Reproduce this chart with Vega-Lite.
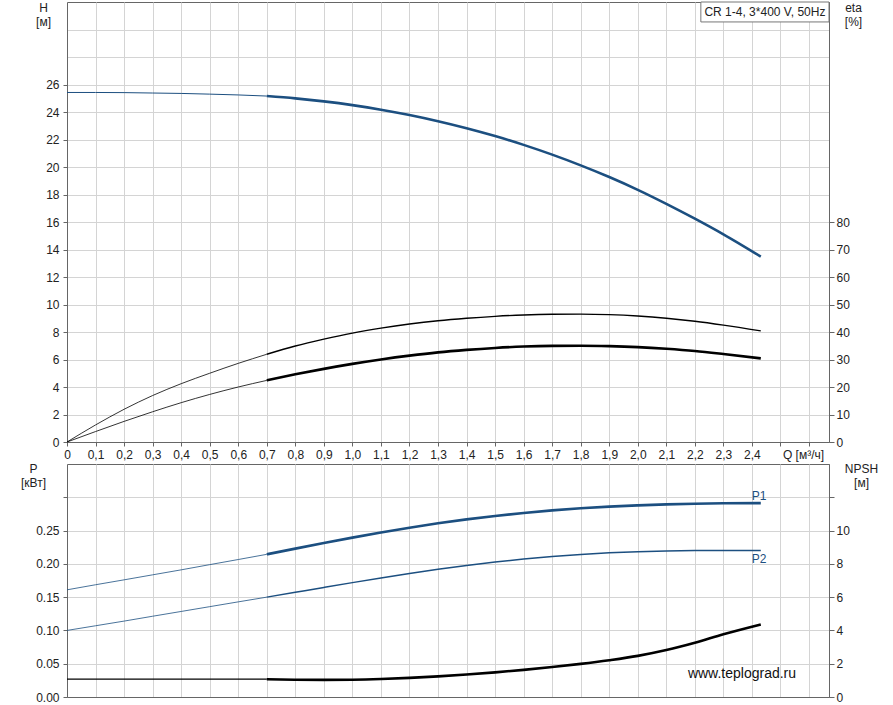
{
  "$schema": "https://vega.github.io/schema/vega-lite/v6.json",
  "autosize": {"type": "pad"},
  "padding": {"left": 19, "top": 0, "right": 5, "bottom": 3},
  "background": "white",
  "config": {
    "font": "Liberation Sans",
    "view": {"stroke": "#666", "strokeWidth": 1},
    "axis": {
      "labelFont": "Liberation Sans", "labelFontSize": 12, "labelColor": "#222", "labelOverlap": false,
      "titleFont": "Liberation Sans", "titleFontSize": 12, "titleFontWeight": "normal", "titleColor": "#222",
      "domainColor": "#666", "tickColor": "#666", "gridColor": "#d4d4d4", "gridWidth": 1
    }
  },
  "datasets": {
    "curves": [
      {"Q": 0, "value": 25.42, "curve": "H", "part": "ext"},
      {"Q": 0.1, "value": 25.42, "curve": "H", "part": "ext"},
      {"Q": 0.2, "value": 25.41, "curve": "H", "part": "ext"},
      {"Q": 0.3, "value": 25.38, "curve": "H", "part": "ext"},
      {"Q": 0.4, "value": 25.35, "curve": "H", "part": "ext"},
      {"Q": 0.5, "value": 25.30, "curve": "H", "part": "ext"},
      {"Q": 0.6, "value": 25.24, "curve": "H", "part": "ext"},
      {"Q": 0.7, "value": 25.16, "curve": "H", "part": "ext"},
      {"Q": 0.7, "value": 25.16, "curve": "H", "part": "op"},
      {"Q": 0.8, "value": 24.99, "curve": "H", "part": "op"},
      {"Q": 0.9, "value": 24.77, "curve": "H", "part": "op"},
      {"Q": 1.0, "value": 24.50, "curve": "H", "part": "op"},
      {"Q": 1.1, "value": 24.17, "curve": "H", "part": "op"},
      {"Q": 1.2, "value": 23.78, "curve": "H", "part": "op"},
      {"Q": 1.3, "value": 23.33, "curve": "H", "part": "op"},
      {"Q": 1.4, "value": 22.82, "curve": "H", "part": "op"},
      {"Q": 1.5, "value": 22.25, "curve": "H", "part": "op"},
      {"Q": 1.6, "value": 21.61, "curve": "H", "part": "op"},
      {"Q": 1.7, "value": 20.90, "curve": "H", "part": "op"},
      {"Q": 1.8, "value": 20.12, "curve": "H", "part": "op"},
      {"Q": 1.9, "value": 19.27, "curve": "H", "part": "op"},
      {"Q": 2.0, "value": 18.34, "curve": "H", "part": "op"},
      {"Q": 2.1, "value": 17.32, "curve": "H", "part": "op"},
      {"Q": 2.2, "value": 16.24, "curve": "H", "part": "op"},
      {"Q": 2.3, "value": 15.10, "curve": "H", "part": "op"},
      {"Q": 2.431, "value": 13.48, "curve": "H", "part": "op"},

      {"Q": 0, "value": 0, "curve": "eta1", "part": "ext"},
      {"Q": 0.1, "value": 6.2, "curve": "eta1", "part": "ext"},
      {"Q": 0.2, "value": 11.9, "curve": "eta1", "part": "ext"},
      {"Q": 0.3, "value": 16.9, "curve": "eta1", "part": "ext"},
      {"Q": 0.4, "value": 21.2, "curve": "eta1", "part": "ext"},
      {"Q": 0.5, "value": 25.0, "curve": "eta1", "part": "ext"},
      {"Q": 0.6, "value": 28.6, "curve": "eta1", "part": "ext"},
      {"Q": 0.7, "value": 31.9, "curve": "eta1", "part": "ext"},
      {"Q": 0.7, "value": 31.9, "curve": "eta1", "part": "op"},
      {"Q": 0.8, "value": 34.9, "curve": "eta1", "part": "op"},
      {"Q": 0.9, "value": 37.4, "curve": "eta1", "part": "op"},
      {"Q": 1.0, "value": 39.6, "curve": "eta1", "part": "op"},
      {"Q": 1.1, "value": 41.4, "curve": "eta1", "part": "op"},
      {"Q": 1.2, "value": 42.9, "curve": "eta1", "part": "op"},
      {"Q": 1.3, "value": 44.1, "curve": "eta1", "part": "op"},
      {"Q": 1.4, "value": 45.0, "curve": "eta1", "part": "op"},
      {"Q": 1.5, "value": 45.7, "curve": "eta1", "part": "op"},
      {"Q": 1.6, "value": 46.2, "curve": "eta1", "part": "op"},
      {"Q": 1.7, "value": 46.45, "curve": "eta1", "part": "op"},
      {"Q": 1.8, "value": 46.5, "curve": "eta1", "part": "op"},
      {"Q": 1.9, "value": 46.3, "curve": "eta1", "part": "op"},
      {"Q": 2.0, "value": 45.8, "curve": "eta1", "part": "op"},
      {"Q": 2.1, "value": 45.0, "curve": "eta1", "part": "op"},
      {"Q": 2.2, "value": 43.9, "curve": "eta1", "part": "op"},
      {"Q": 2.3, "value": 42.5, "curve": "eta1", "part": "op"},
      {"Q": 2.431, "value": 40.4, "curve": "eta1", "part": "op"},

      {"Q": 0, "value": 0, "curve": "eta2", "part": "ext"},
      {"Q": 0.1, "value": 3.8, "curve": "eta2", "part": "ext"},
      {"Q": 0.2, "value": 7.5, "curve": "eta2", "part": "ext"},
      {"Q": 0.3, "value": 11.0, "curve": "eta2", "part": "ext"},
      {"Q": 0.4, "value": 14.3, "curve": "eta2", "part": "ext"},
      {"Q": 0.5, "value": 17.3, "curve": "eta2", "part": "ext"},
      {"Q": 0.6, "value": 20.0, "curve": "eta2", "part": "ext"},
      {"Q": 0.7, "value": 22.4, "curve": "eta2", "part": "ext"},
      {"Q": 0.7, "value": 22.4, "curve": "eta2", "part": "op"},
      {"Q": 0.8, "value": 24.6, "curve": "eta2", "part": "op"},
      {"Q": 0.9, "value": 26.6, "curve": "eta2", "part": "op"},
      {"Q": 1.0, "value": 28.4, "curve": "eta2", "part": "op"},
      {"Q": 1.1, "value": 30.0, "curve": "eta2", "part": "op"},
      {"Q": 1.2, "value": 31.4, "curve": "eta2", "part": "op"},
      {"Q": 1.3, "value": 32.6, "curve": "eta2", "part": "op"},
      {"Q": 1.4, "value": 33.5, "curve": "eta2", "part": "op"},
      {"Q": 1.5, "value": 34.2, "curve": "eta2", "part": "op"},
      {"Q": 1.6, "value": 34.7, "curve": "eta2", "part": "op"},
      {"Q": 1.7, "value": 34.95, "curve": "eta2", "part": "op"},
      {"Q": 1.8, "value": 35.0, "curve": "eta2", "part": "op"},
      {"Q": 1.9, "value": 34.85, "curve": "eta2", "part": "op"},
      {"Q": 2.0, "value": 34.5, "curve": "eta2", "part": "op"},
      {"Q": 2.1, "value": 33.9, "curve": "eta2", "part": "op"},
      {"Q": 2.2, "value": 33.1, "curve": "eta2", "part": "op"},
      {"Q": 2.3, "value": 32.0, "curve": "eta2", "part": "op"},
      {"Q": 2.431, "value": 30.4, "curve": "eta2", "part": "op"},

      {"Q": 0, "value": 0.161, "curve": "P1", "part": "ext"},
      {"Q": 0.1, "value": 0.1686, "curve": "P1", "part": "ext"},
      {"Q": 0.2, "value": 0.176, "curve": "P1", "part": "ext"},
      {"Q": 0.3, "value": 0.1835, "curve": "P1", "part": "ext"},
      {"Q": 0.4, "value": 0.191, "curve": "P1", "part": "ext"},
      {"Q": 0.5, "value": 0.1988, "curve": "P1", "part": "ext"},
      {"Q": 0.6, "value": 0.2065, "curve": "P1", "part": "ext"},
      {"Q": 0.7, "value": 0.2143, "curve": "P1", "part": "ext"},
      {"Q": 0.7, "value": 0.2143, "curve": "P1", "part": "op"},
      {"Q": 0.8, "value": 0.2229, "curve": "P1", "part": "op"},
      {"Q": 0.9, "value": 0.2313, "curve": "P1", "part": "op"},
      {"Q": 1.0, "value": 0.2394, "curve": "P1", "part": "op"},
      {"Q": 1.1, "value": 0.2471, "curve": "P1", "part": "op"},
      {"Q": 1.2, "value": 0.2543, "curve": "P1", "part": "op"},
      {"Q": 1.3, "value": 0.2609, "curve": "P1", "part": "op"},
      {"Q": 1.4, "value": 0.2668, "curve": "P1", "part": "op"},
      {"Q": 1.5, "value": 0.2720, "curve": "P1", "part": "op"},
      {"Q": 1.6, "value": 0.2765, "curve": "P1", "part": "op"},
      {"Q": 1.7, "value": 0.2803, "curve": "P1", "part": "op"},
      {"Q": 1.8, "value": 0.2835, "curve": "P1", "part": "op"},
      {"Q": 1.9, "value": 0.2860, "curve": "P1", "part": "op"},
      {"Q": 2.0, "value": 0.2879, "curve": "P1", "part": "op"},
      {"Q": 2.1, "value": 0.2894, "curve": "P1", "part": "op"},
      {"Q": 2.2, "value": 0.2904, "curve": "P1", "part": "op"},
      {"Q": 2.3, "value": 0.2910, "curve": "P1", "part": "op"},
      {"Q": 2.431, "value": 0.2912, "curve": "P1", "part": "op"},

      {"Q": 0, "value": 0.100, "curve": "P2", "part": "ext"},
      {"Q": 0.1, "value": 0.107, "curve": "P2", "part": "ext"},
      {"Q": 0.2, "value": 0.114, "curve": "P2", "part": "ext"},
      {"Q": 0.3, "value": 0.1213, "curve": "P2", "part": "ext"},
      {"Q": 0.4, "value": 0.1285, "curve": "P2", "part": "ext"},
      {"Q": 0.5, "value": 0.1357, "curve": "P2", "part": "ext"},
      {"Q": 0.6, "value": 0.1429, "curve": "P2", "part": "ext"},
      {"Q": 0.7, "value": 0.150, "curve": "P2", "part": "ext"},
      {"Q": 0.7, "value": 0.150, "curve": "P2", "part": "op"},
      {"Q": 0.8, "value": 0.1573, "curve": "P2", "part": "op"},
      {"Q": 0.9, "value": 0.1646, "curve": "P2", "part": "op"},
      {"Q": 1.0, "value": 0.1718, "curve": "P2", "part": "op"},
      {"Q": 1.1, "value": 0.1788, "curve": "P2", "part": "op"},
      {"Q": 1.2, "value": 0.1855, "curve": "P2", "part": "op"},
      {"Q": 1.3, "value": 0.1918, "curve": "P2", "part": "op"},
      {"Q": 1.4, "value": 0.1976, "curve": "P2", "part": "op"},
      {"Q": 1.5, "value": 0.2028, "curve": "P2", "part": "op"},
      {"Q": 1.6, "value": 0.2073, "curve": "P2", "part": "op"},
      {"Q": 1.7, "value": 0.2111, "curve": "P2", "part": "op"},
      {"Q": 1.8, "value": 0.2142, "curve": "P2", "part": "op"},
      {"Q": 1.9, "value": 0.2166, "curve": "P2", "part": "op"},
      {"Q": 2.0, "value": 0.2183, "curve": "P2", "part": "op"},
      {"Q": 2.1, "value": 0.2194, "curve": "P2", "part": "op"},
      {"Q": 2.2, "value": 0.2199, "curve": "P2", "part": "op"},
      {"Q": 2.3, "value": 0.2200, "curve": "P2", "part": "op"},
      {"Q": 2.431, "value": 0.2200, "curve": "P2", "part": "op"},

      {"Q": 0, "value": 1.07, "curve": "NPSH", "part": "ext"},
      {"Q": 0.35, "value": 1.07, "curve": "NPSH", "part": "ext"},
      {"Q": 0.7, "value": 1.07, "curve": "NPSH", "part": "ext"},
      {"Q": 0.7, "value": 1.07, "curve": "NPSH", "part": "op"},
      {"Q": 0.8, "value": 1.04, "curve": "NPSH", "part": "op"},
      {"Q": 0.9, "value": 1.03, "curve": "NPSH", "part": "op"},
      {"Q": 1.0, "value": 1.04, "curve": "NPSH", "part": "op"},
      {"Q": 1.1, "value": 1.08, "curve": "NPSH", "part": "op"},
      {"Q": 1.2, "value": 1.15, "curve": "NPSH", "part": "op"},
      {"Q": 1.3, "value": 1.24, "curve": "NPSH", "part": "op"},
      {"Q": 1.4, "value": 1.35, "curve": "NPSH", "part": "op"},
      {"Q": 1.5, "value": 1.48, "curve": "NPSH", "part": "op"},
      {"Q": 1.6, "value": 1.63, "curve": "NPSH", "part": "op"},
      {"Q": 1.7, "value": 1.80, "curve": "NPSH", "part": "op"},
      {"Q": 1.8, "value": 1.99, "curve": "NPSH", "part": "op"},
      {"Q": 1.9, "value": 2.21, "curve": "NPSH", "part": "op"},
      {"Q": 2.0, "value": 2.47, "curve": "NPSH", "part": "op"},
      {"Q": 2.1, "value": 2.82, "curve": "NPSH", "part": "op"},
      {"Q": 2.2, "value": 3.26, "curve": "NPSH", "part": "op"},
      {"Q": 2.3, "value": 3.77, "curve": "NPSH", "part": "op"},
      {"Q": 2.431, "value": 4.36, "curve": "NPSH", "part": "op"}
    ]
  },
  "spacing": 22,
  "bounds": "flush",
  "vconcat": [
    {
      "width": 762,
      "height": 440,
      "data": {"name": "curves"},
      "encoding": {
        "x": {
          "field": "Q", "type": "quantitative",
          "scale": {"domain": [0, 2.67], "nice": false, "zero": true},
          "axis": {
            "values": [0, 0.1, 0.2, 0.3, 0.4, 0.5, 0.6, 0.7, 0.8, 0.9, 1.0, 1.1, 1.2, 1.3, 1.4, 1.5, 1.6, 1.7, 1.8, 1.9, 2.0, 2.1, 2.2, 2.3, 2.4, 2.5, 2.6],
            "labelExpr": "datum.value > 2.45 ? '' : (datum.value == 0 ? '0' : replace(format(datum.value, '.1f'), '.', ','))",
            "labelFlush": false, "labelOverlap": false,
            "tickSize": 4, "labelPadding": 3, "grid": true,
            "title": "Q [м³/ч]", "titleX": 736, "titleY": 16, "titleAlign": "center", "titleBaseline": "alphabetic"
          }
        }
      },
      "layer": [
        {
          "transform": [{"filter": "datum.curve == 'H'"}],
          "mark": {"type": "line", "interpolate": "monotone", "color": "#1c4f80"},
          "encoding": {
            "y": {
              "field": "value", "type": "quantitative",
              "scale": {"domain": [0, 32], "nice": false},
              "axis": {
                "values": [0, 2, 4, 6, 8, 10, 12, 14, 16, 18, 20, 22, 24, 26, 28, 30],
                "labelExpr": "datum.value > 27 ? '' : datum.label",
                "tickOpacity": {"condition": {"test": "datum.value > 27", "value": 0}, "value": 1},
                "labelOverlap": false, "labelFlush": false,
                "tickSize": 4, "labelPadding": 4, "grid": true,
                "title": ["H", "[м]"], "titleAngle": 0, "titleX": -24, "titleY": 9,
                "titleAlign": "center", "titleBaseline": "alphabetic", "titleLineHeight": 14
              }
            },
            "detail": {"field": "part"},
            "strokeWidth": {"condition": {"test": "datum.part == 'ext'", "value": 1}, "value": 2.6}
          }
        },
        {
          "transform": [{"filter": "datum.curve == 'eta1' || datum.curve == 'eta2'"}],
          "mark": {"type": "line", "interpolate": "monotone", "color": "black"},
          "encoding": {
            "y": {
              "field": "value", "type": "quantitative",
              "scale": {"domain": [0, 160], "nice": false},
              "axis": {
                "orient": "right",
                "values": [0, 10, 20, 30, 40, 50, 60, 70, 80],
                "labelOverlap": false,
                "grid": false, "tickSize": 5, "labelPadding": 2,
                "title": ["eta", "[%]"], "titleAngle": 0, "titleX": 24, "titleY": 9,
                "titleAlign": "center", "titleBaseline": "alphabetic", "titleLineHeight": 14
              }
            },
            "detail": [{"field": "curve"}, {"field": "part"}],
            "strokeWidth": {
              "condition": [
                {"test": "datum.part == 'ext'", "value": 0.8},
                {"test": "datum.curve == 'eta1'", "value": 1.4}
              ],
              "value": 2.6
            }
          }
        },
        {
          "data": {"values": [{"Q": 2.221, "Q2": 2.67, "value": 30.55, "value2": 32}]},
          "mark": {"type": "rect", "fill": "white", "stroke": "#777", "strokeWidth": 1},
          "encoding": {
            "x": {"field": "Q", "type": "quantitative", "scale": {"domain": [0, 2.67], "nice": false}},
            "x2": {"field": "Q2"},
            "y": {"field": "value", "type": "quantitative", "scale": {"domain": [0, 32], "nice": false}, "axis": null},
            "y2": {"field": "value2"}
          }
        },
        {
          "data": {"values": [{"Q": 2.4455, "value": 31.27, "label": "CR 1-4, 3*400 V, 50Hz"}]},
          "mark": {"type": "text", "fontSize": 12, "color": "#222", "align": "center", "baseline": "middle", "font": "Liberation Sans"},
          "encoding": {
            "x": {"field": "Q", "type": "quantitative", "scale": {"domain": [0, 2.67], "nice": false}},
            "y": {"field": "value", "type": "quantitative", "scale": {"domain": [0, 32], "nice": false}, "axis": null},
            "text": {"field": "label"}
          }
        }
      ],
      "resolve": {"scale": {"y": "independent"}}
    },
    {
      "width": 762,
      "height": 233,
      "data": {"name": "curves"},
      "encoding": {
        "x": {
          "field": "Q", "type": "quantitative",
          "scale": {"domain": [0, 2.67], "nice": false, "zero": true},
          "axis": {
            "values": [0, 0.1, 0.2, 0.3, 0.4, 0.5, 0.6, 0.7, 0.8, 0.9, 1.0, 1.1, 1.2, 1.3, 1.4, 1.5, 1.6, 1.7, 1.8, 1.9, 2.0, 2.1, 2.2, 2.3, 2.4, 2.5, 2.6],
            "labels": false, "ticks": false, "grid": true, "title": null
          }
        }
      },
      "layer": [
        {
          "transform": [{"filter": "datum.curve == 'P1' || datum.curve == 'P2'"}],
          "mark": {"type": "line", "interpolate": "monotone", "color": "#1c4f80"},
          "encoding": {
            "y": {
              "field": "value", "type": "quantitative",
              "scale": {"domain": [0, 0.35], "nice": false},
              "axis": {
                "values": [0, 0.05, 0.1, 0.15, 0.2, 0.25, 0.3],
                "labelExpr": "datum.value > 0.27 ? '' : format(datum.value, '.2f')",
                "labelOverlap": false, "labelFlush": false,
                "tickSize": 4, "labelPadding": 4, "grid": true,
                "title": ["P", "[кВт]"], "titleAngle": 0, "titleX": -34, "titleY": 8,
                "titleAlign": "center", "titleBaseline": "alphabetic", "titleLineHeight": 14
              }
            },
            "detail": [{"field": "curve"}, {"field": "part"}],
            "strokeWidth": {
              "condition": [
                {"test": "datum.part == 'ext'", "value": 0.8},
                {"test": "datum.curve == 'P2'", "value": 1.5}
              ],
              "value": 2.6
            }
          }
        },
        {
          "transform": [{"filter": "datum.curve == 'NPSH'"}],
          "mark": {"type": "line", "interpolate": "monotone", "color": "black"},
          "encoding": {
            "y": {
              "field": "value", "type": "quantitative",
              "scale": {"domain": [0, 14], "nice": false},
              "axis": {
                "orient": "right",
                "values": [0, 2, 4, 6, 8, 10, 12],
                "labelExpr": "datum.value > 11 ? '' : datum.label",
                "labelOverlap": false,
                "grid": false, "tickSize": 5, "labelPadding": 2,
                "title": ["NPSH", "[м]"], "titleAngle": 0, "titleX": 32, "titleY": 8,
                "titleAlign": "center", "titleBaseline": "alphabetic", "titleLineHeight": 14
              }
            },
            "detail": {"field": "part"},
            "strokeWidth": {"condition": {"test": "datum.part == 'ext'", "value": 1.2}, "value": 2.6}
          }
        },
        {
          "data": {"values": [
            {"Q": 2.425, "value": 0.302, "label": "P1"},
            {"Q": 2.425, "value": 0.2066, "label": "P2"}
          ]},
          "mark": {"type": "text", "fontSize": 12, "color": "#1c4f80", "align": "center", "baseline": "middle", "font": "Liberation Sans"},
          "encoding": {
            "y": {"field": "value", "type": "quantitative", "scale": {"domain": [0, 0.35], "nice": false}, "axis": null},
            "text": {"field": "label"}
          }
        },
        {
          "data": {"values": [{"Q": 2.365, "value": 0.0345, "label": "www.teplograd.ru"}]},
          "mark": {"type": "text", "fontSize": 14, "color": "#111", "align": "center", "baseline": "middle", "font": "Liberation Sans"},
          "encoding": {
            "y": {"field": "value", "type": "quantitative", "scale": {"domain": [0, 0.35], "nice": false}, "axis": null},
            "text": {"field": "label"}
          }
        }
      ],
      "resolve": {"scale": {"y": "independent"}}
    }
  ]
}
